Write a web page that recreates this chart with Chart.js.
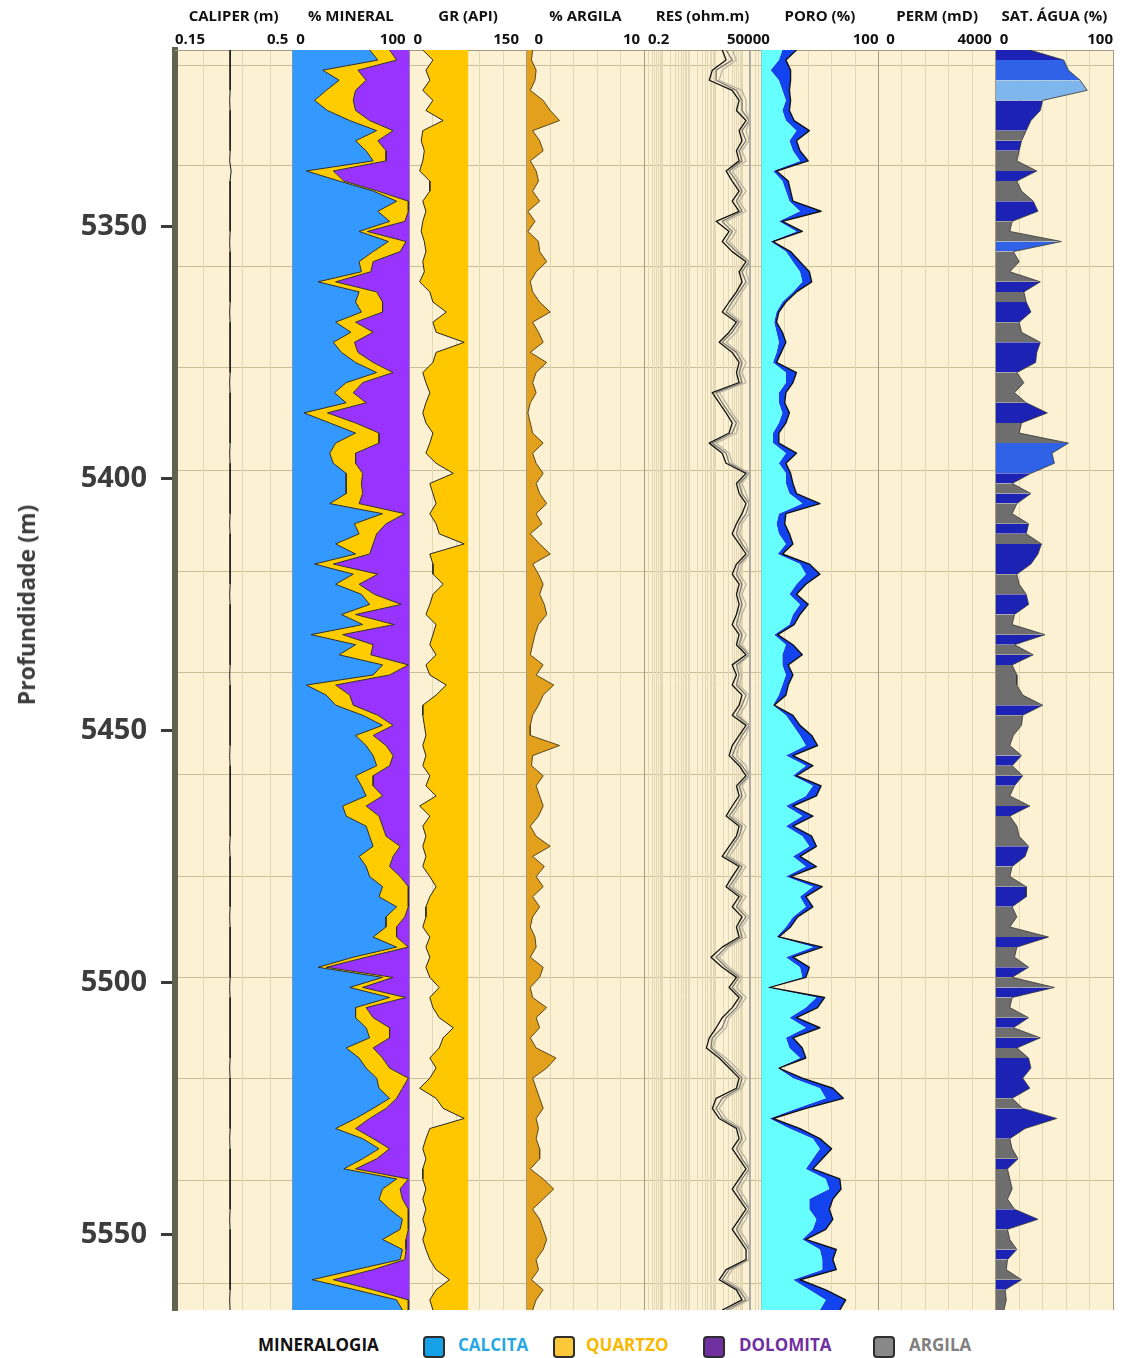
<!DOCTYPE html>
<html>
<head>
<meta charset="utf-8">
<script src="https://cdn.jsdelivr.net/npm/chart.js@4.4.1/dist/chart.umd.min.js"></script>
<style>
	body { margin: 0; background: #ffffff; font-family: "Open Sans", sans-serif; }
	#pagina { position: relative; width: 1126px; height: 1358px; }
	#perfil { position: absolute; left: 0; top: 0; }
	#titulo_y { position: absolute; left: 26px; top: 605px; transform: translate(-50%, -50%) rotate(-90deg); white-space: nowrap; font-weight: bold; font-size: 23px; color: #3c3c3c; }
	.leg { position: absolute; top: 1333px; font-weight: bold; font-size: 17px; line-height: 24px; white-space: nowrap; }
	.caixa { position: absolute; top: 1336px; width: 18px; height: 18px; border: 2px solid #2e2e2e; border-radius: 4px; }
</style>
</head>
<body>
<div id="pagina">
	<canvas id="perfil" width="1126" height="1322"></canvas>
	<div id="titulo_y">Profundidade (m)</div>
	<div class="leg" style="left:258px;color:#111">MINERALOGIA</div>
	<div class="caixa" style="left:423px;background:#17a2e8"></div>
	<div class="leg" style="left:458px;color:#27a8e2">CALCITA</div>
	<div class="caixa" style="left:553px;background:#fcc83a"></div>
	<div class="leg" style="left:586px;color:#f7b900">QUARTZO</div>
	<div class="caixa" style="left:703px;background:#7030a0"></div>
	<div class="leg" style="left:739px;color:#7030a0">DOLOMITA</div>
	<div class="caixa" style="left:873px;background:#888888"></div>
	<div class="leg" style="left:909px;color:#808080">ARGILA</div>
</div>
<script>
// profundidade (m) de cada amostra
var profundidade = [
	5315,5317,5319,5321,5323,5325,5327,5329,5331,5333,
	5335,5337,5339,5341,5343,5345,5347,5349,5351,5353,
	5355,5357,5359,5361,5363,5365,5367,5369,5371,5373,
	5375,5377,5379,5381,5383,5385,5387,5389,5391,5393,
	5395,5397,5399,5401,5403,5405,5407,5409,5411,5413,
	5415,5417,5419,5421,5423,5425,5427,5429,5431,5433,
	5435,5437,5439,5441,5443,5445,5447,5449,5451,5453,
	5455,5457,5459,5461,5463,5465,5467,5469,5471,5473,
	5475,5477,5479,5481,5483,5485,5487,5489,5491,5493,
	5495,5497,5499,5501,5503,5505,5507,5509,5511,5513,
	5515,5517,5519,5521,5523,5525,5527,5529,5531,5533,
	5535,5537,5539,5541,5543,5545,5547,5549,5551,5553,
	5555,5557,5559,5561,5563,5565
];

var caliper = [
	0.264,0.264,0.265,0.264,0.264,0.263,0.264,0.264,0.265,0.264,
	0.264,0.263,0.267,0.264,0.264,0.264,0.265,0.264,0.264,0.263,
	0.264,0.264,0.265,0.264,0.264,0.264,0.263,0.264,0.264,0.265,
	0.264,0.264,0.264,0.263,0.264,0.265,0.264,0.264,0.264,0.264,
	0.263,0.264,0.264,0.265,0.264,0.264,0.264,0.263,0.264,0.264,
	0.264,0.265,0.264,0.264,0.263,0.264,0.264,0.264,0.265,0.264,
	0.264,0.264,0.263,0.264,0.264,0.264,0.265,0.264,0.264,0.264,
	0.263,0.264,0.264,0.264,0.265,0.266,0.264,0.264,0.264,0.263,
	0.264,0.264,0.265,0.264,0.264,0.264,0.263,0.264,0.264,0.264,
	0.265,0.264,0.264,0.263,0.264,0.264,0.264,0.265,0.264,0.264,
	0.264,0.263,0.264,0.264,0.264,0.265,0.264,0.264,0.263,0.264,
	0.264,0.264,0.265,0.264,0.264,0.264,0.263,0.264,0.264,0.264,
	0.264,0.265,0.264,0.264,0.263,0.264
];

// mineralogia (%)
var calcita = [
	66,73,26,40,29,19,30,49,72,54,
	63,69,12,40,69,89,73,83,57,82,
	69,57,59,22,57,54,59,37,50,35,
	42,54,72,46,36,46,10,32,54,37,
	32,35,46,46,46,32,77,53,57,37,
	54,19,52,37,59,66,42,60,16,54,
	40,77,69,12,29,37,60,77,54,63,
	69,72,54,59,63,43,46,63,66,69,
	57,63,66,77,74,89,80,80,69,89,
	52,22,77,49,83,54,54,63,66,46,
	57,63,72,74,83,69,54,37,60,74,
	60,44,89,77,74,83,94,92,77,94,
	92,54,17,54,89,94
];
var quartzo = [
	17,16,30,23,25,33,24,17,14,19,
	17,11,23,4,4,10,26,13,7,15,
	23,12,8,15,15,23,18,17,19,18,
	14,15,14,14,16,17,20,22,20,37,
	22,19,14,13,14,25,19,27,15,32,
	12,16,21,20,11,27,12,27,27,15,
	27,22,14,25,20,15,13,9,15,17,
	17,11,15,10,14,20,28,14,14,23,
	29,20,26,22,25,10,16,9,20,10,
	11,7,9,11,14,9,15,20,17,23,
	20,20,27,20,6,11,12,17,9,9,
	12,10,10,15,20,16,5,7,20,3,
	4,15,18,15,10,5
];
var dolomita = [
	17,11,44,37,46,48,46,34,14,27,
	20,20,65,56,27,1,1,4,36,3,
	8,31,33,63,28,23,23,46,31,47,
	44,31,14,40,48,37,70,46,26,26,
	46,46,40,41,40,43,4,20,28,31,
	34,65,27,43,30,7,46,13,57,31,
	33,1,17,63,51,48,27,14,31,20,
	14,17,31,31,23,37,26,23,20,8,
	14,17,8,1,1,1,4,11,11,1,
	37,71,14,40,3,37,31,17,17,31,
	23,17,1,6,11,20,34,46,31,17,
	28,46,1,8,6,1,1,1,3,3,
	4,31,65,31,1,1
];

// raios gama (API)
var raioGama = [
	17,30,21,26,17,30,21,43,17,15,
	19,17,13,26,26,17,21,17,15,19,
	21,17,19,13,26,30,47,30,34,70,
	34,30,17,21,26,21,17,21,30,26,
	21,34,56,26,30,34,26,34,38,70,
	26,30,30,43,30,26,21,34,30,26,
	34,21,26,47,34,17,17,19,21,17,
	21,17,26,21,34,13,26,17,21,17,
	21,17,26,34,26,21,21,17,26,21,
	26,21,26,38,26,30,38,56,43,38,
	26,34,26,13,34,43,70,26,21,17,
	21,17,17,21,17,21,17,21,17,21,
	26,34,51,34,26,30
];
var corteGR = 75;

// argila (%)
var argila = [
	0.5,0.4,0.8,0.7,0.3,1.4,2.0,2.8,0.5,1.1,
	1.4,0.3,0.8,1.0,0.5,1.1,0.1,0.7,0.1,1.0,
	1.1,1.7,0.8,0.3,0.5,1.1,2.0,0.5,1.0,1.4,
	0.3,1.7,0.8,0.5,0.8,0.3,0.1,0.3,0.5,1.4,
	0.5,0.8,1.4,0.8,1.1,1.7,0.8,1.3,0.3,1.1,
	2.0,0.5,1.0,1.4,1.1,1.5,1.7,1.0,0.7,0.5,
	0.3,1.4,0.8,2.3,1.4,1.0,0.5,0.3,0.3,2.8,
	0.5,0.4,1.4,0.8,1.1,1.4,1.0,0.3,0.8,2.0,
	0.5,1.5,0.8,1.4,0.5,1.1,0.5,0.3,0.7,0.8,
	0.3,1.4,1.1,0.3,0.5,1.7,0.8,1.1,0.3,0.8,
	2.5,1.7,0.5,0.8,1.1,1.4,0.8,1.0,0.8,1.1,
	1.1,0.3,1.4,2.3,1.4,0.5,1.1,1.4,1.7,1.4,
	0.8,1.0,0.4,1.4,0.8,0.5
];

// resistividade (ohm.m)
var resProfunda = [
	172,240,73,56,407,741,587,1346,741,949,
	587,741,240,407,741,407,741,102,312,172,
	407,1346,741,949,587,312,172,587,312,132,
	407,741,587,741,73,132,240,407,312,56,
	172,240,1346,587,741,1346,949,587,407,741,
	1346,587,407,741,587,741,587,407,741,587,
	1346,407,587,407,949,741,407,1346,741,407,
	312,741,1346,587,741,407,240,741,587,312,
	172,741,407,240,741,407,949,587,741,172,
	65,172,587,312,741,407,172,102,56,44,
	132,312,741,587,102,73,132,587,741,407,
	741,1346,741,407,741,1346,741,407,741,1346,
	1346,240,132,587,949,172
];
var resMedia = [
	240,407,102,102,587,949,949,1753,949,1346,
	741,949,312,587,949,587,949,172,407,240,
	587,1753,949,1346,741,407,240,741,407,172,
	587,949,741,949,102,172,312,587,407,73,
	240,312,1753,741,949,1753,1346,741,587,949,
	1753,741,587,949,741,949,741,587,949,741,
	1753,587,741,587,1346,949,587,1753,949,587,
	407,949,1753,741,949,587,312,949,741,407,
	240,949,587,312,949,587,1346,741,949,240,
	102,240,741,407,949,587,240,172,73,65,
	172,407,949,741,172,102,172,741,949,587,
	949,1753,949,587,949,1753,949,587,949,1753,
	1753,312,172,741,1346,240
];
var resRasa = [
	407,587,172,132,949,1346,1346,1825,1346,1753,
	949,1346,407,741,1346,741,1346,240,587,312,
	741,1825,1346,1753,949,587,312,949,587,240,
	741,1346,949,1346,132,240,407,741,587,102,
	312,407,1825,949,1346,1825,1753,949,741,1346,
	1825,949,741,1346,949,1346,949,741,1346,949,
	1825,741,949,741,1753,1346,741,1825,1346,741,
	587,1346,1825,949,1346,741,407,1346,949,587,
	312,1346,741,407,1346,741,1753,949,1346,312,
	132,312,949,587,1346,741,312,240,102,73,
	240,587,1346,949,240,132,240,949,1346,741,
	1346,1825,1346,741,1346,1825,1346,741,1346,1825,
	1825,407,240,949,1753,312
];
var limiteRes = 1875;

// porosidade (%)
var poroEfetiva = [
	18,15,8,15,18,21,18,21,30,24,
	27,33,10,18,21,24,33,15,30,8,
	21,27,33,35,27,18,13,11,13,15,
	13,10,21,21,15,15,18,15,10,10,
	21,15,21,21,24,35,15,13,15,21,
	14,33,38,30,24,33,27,24,11,21,
	18,18,21,18,15,10,21,27,33,38,
	21,38,27,44,38,21,35,21,35,41,
	27,38,21,44,33,38,27,21,13,44,
	21,33,35,5,47,38,24,38,21,24,
	33,14,27,50,55,30,7,24,44,50,
	44,38,55,58,41,41,47,44,35,50,
	52,52,27,41,55,50
];
var poroTotal = [
	30,21,25,25,24,25,24,28,41,30,
	33,40,13,23,25,27,51,18,35,10,
	25,33,41,43,30,21,15,13,18,21,
	17,13,30,27,21,20,24,21,15,15,
	30,21,25,27,30,50,21,20,24,27,
	18,41,50,38,30,40,33,28,14,27,
	35,23,27,23,21,11,27,33,43,48,
	27,44,30,51,47,27,44,27,43,47,
	33,47,25,52,38,44,31,25,15,52,
	27,41,38,7,54,48,30,50,27,35,
	38,15,35,61,70,38,10,33,50,60,
	52,44,67,68,61,58,61,55,38,64,
	61,64,33,55,72,67
];

// saturação de água (%) e classe de cor de cada intervalo
var satAgua = [
	29,58,62,72,78,40,38,30,26,22,
	20,18,35,18,22,32,36,14,12,56,
	15,20,12,38,24,26,30,20,22,38,
	35,34,18,24,16,26,44,22,20,62,
	48,50,30,14,30,18,14,28,26,39,
	36,30,18,20,26,28,16,14,42,16,
	32,14,18,18,23,40,23,22,15,12,
	22,14,23,16,12,29,12,18,20,28,
	25,14,12,26,26,14,18,12,45,18,
	16,28,14,50,14,12,28,15,38,18,
	28,30,23,29,14,23,52,25,12,14,
	19,10,12,14,10,16,36,10,12,18,
	10,9,22,8,9,7
];
var satClasse = [
	"n","b","b","l","l","n","n","n","g","n",
	"g","g","n","g","g","n","n","g","g","b",
	"g","g","g","n","g","n","n","g","g","n",
	"n","n","g","g","g","n","n","g","g","b",
	"b","b","n","g","n","g","g","n","g","n",
	"n","n","g","g","n","n","g","g","n","g",
	"n","g","g","g","g","n","g","g","g","g",
	"n","g","n","g","g","n","g","g","g","n",
	"n","g","g","n","n","g","g","g","n","g",
	"g","n","g","n","g","g","n","g","n","g",
	"n","n","n","n","g","n","n","n","g","g",
	"n","g","g","g","g","n","n","g","g","n",
	"g","g","n","g","g","g"
];
var coresSat = { g: "#6e6e6e", n: "#1b22b4", b: "#2f62e6", l: "#80b6ee" };

var rotulosProfundidade = [5350, 5400, 5450, 5500, 5550];
var linhasProfundidade = [5318, 5338, 5358, 5378, 5398.5, 5418.5, 5438.6, 5458.8, 5479, 5499, 5519, 5539.4, 5559.7];

function pontos(valores)
{
	return valores.map(function (v, i) { return { x: v, y: profundidade[i] }; });
}

function gradeLog(min, max)
{
	var ticks = [];
	for (var dec = 0.1; dec <= max; dec *= 10) {
		for (var m = 1; m < 10; m++) {
			var v = Math.round(m * dec * 1000) / 1000;
			if (v >= min && v <= max) ticks.push(v);
		}
	}
	return ticks;
}

function criaPista(titulo, tipo, min, max, grade, rotuloMin, rotuloMax, empilhado)
{
	return {
		axis: 'x',
		type: tipo,
		position: 'top',
		stack: 'pistas',
		stackWeight: 1,
		stacked: !!empilhado,
		min: min,
		max: max,
		afterFit: function (s) { s.height = 50; s.paddingLeft = 0; s.paddingRight = 0; },
		afterBuildTicks: function (s) { s.ticks = grade.map(function (v) { return { value: v }; }); },
		title: {
			display: true,
			text: titulo,
			color: '#111',
			font: { family: 'Open Sans', size: 15, weight: 'bold' },
			padding: { top: 8, bottom: 0 }
		},
		ticks: {
			autoSkip: false,
			maxRotation: 0,
			align: 'inner',
			padding: 1,
			color: '#111',
			font: { family: 'Open Sans', size: 15, weight: 'bold' },
			callback: function (v, i, t) {
				if (i === 0) return rotuloMin;
				if (i === t.length - 1) return rotuloMax;
				return '';
			}
		},
		grid: {
			drawTicks: false,
			lineWidth: 1,
			color: function (ctx) {
				return (ctx.index === 0 || ctx.index === grade.length - 1) ? '#a39b82' : '#e2d8b6';
			}
		},
		border: { display: true, color: '#a39b82', width: 1 }
	};
}

var fundoPistas = {
	id: 'fundoPistas',
	beforeDraw: function (chart) {
		var a = chart.chartArea;
		var ctx = chart.ctx;
		ctx.save();
		ctx.fillStyle = '#fcf2d3';
		ctx.fillRect(a.left, a.top, a.right - a.left, a.bottom - a.top);
		ctx.restore();
	}
};

var linha = { pointRadius: 0, tension: 0, borderJoinStyle: 'round' };

new Chart(document.getElementById('perfil'), {
	type: 'line',
	plugins: [fundoPistas],
	data: {
		datasets: [
			Object.assign({ label: 'Caliper', data: pontos(caliper), xAxisID: 'cal', borderColor: '#1a1a1a', borderWidth: 1, fill: false }, linha),
			Object.assign({ label: 'Calcita', data: pontos(calcita), xAxisID: 'min', borderColor: '#2e2e2e', borderWidth: 1, backgroundColor: '#3399ff', fill: 'origin' }, linha),
			Object.assign({ label: 'Quartzo', data: pontos(quartzo), xAxisID: 'min', borderColor: '#2e2e2e', borderWidth: 1, backgroundColor: '#ffcc00', fill: '-1' }, linha),
			Object.assign({ label: 'Dolomita', data: pontos(dolomita), xAxisID: 'min', borderColor: 'rgba(0,0,0,0)', borderWidth: 0, backgroundColor: '#9933ff', fill: '-1' }, linha),
			Object.assign({ label: 'GR', data: pontos(raioGama), xAxisID: 'gr', borderColor: '#262626', borderWidth: 1, backgroundColor: '#ffc700', fill: { value: corteGR } }, linha),
			Object.assign({ label: 'Argila', data: pontos(argila), xAxisID: 'arg', borderColor: '#5a4719', borderWidth: 1, backgroundColor: '#e2a01d', fill: 'origin' }, linha),
			Object.assign({ label: 'RES rasa', data: pontos(resRasa), xAxisID: 'res', borderColor: '#bcb5a3', borderWidth: 1.3, fill: false }, linha),
			Object.assign({ label: 'RES media', data: pontos(resMedia), xAxisID: 'res', borderColor: '#7d7a72', borderWidth: 1.3, fill: false }, linha),
			Object.assign({ label: 'RES profunda', data: pontos(resProfunda), xAxisID: 'res', borderColor: '#111', borderWidth: 1.3, fill: false }, linha),
			Object.assign({ label: 'Limite RES', data: [{ x: limiteRes, y: profundidade[0] }, { x: limiteRes, y: profundidade[profundidade.length - 1] }], xAxisID: 'res', borderColor: '#a3a3a3', borderWidth: 1, fill: false }, linha),
			Object.assign({ label: 'Poro efetiva', data: pontos(poroEfetiva), xAxisID: 'por', borderColor: 'rgba(0,0,0,0)', borderWidth: 0, backgroundColor: '#66ffff', fill: 'origin' }, linha),
			Object.assign({ label: 'Poro total', data: pontos(poroTotal), xAxisID: 'por', borderColor: '#111', borderWidth: 1.4, backgroundColor: '#1243ee', fill: '-1' }, linha),
			Object.assign({
				label: 'Sat agua', data: pontos(satAgua), xAxisID: 'sat', borderColor: '#333', borderWidth: 0.8, backgroundColor: '#6e6e6e', fill: 'origin',
				segment: { backgroundColor: function (ctx) { return coresSat[satClasse[ctx.p0DataIndex]]; } }
			}, linha)
		]
	},
	options: {
		responsive: false,
		animation: false,
		devicePixelRatio: 1,
		indexAxis: 'y',
		layout: { padding: { left: 0, right: 13, top: 0, bottom: 12 } },
		plugins: { legend: { display: false }, tooltip: { enabled: false } },
		scales: {
			y: {
				axis: 'y',
				type: 'linear',
				position: 'left',
				reverse: true,
				min: 5315,
				max: 5565,
				afterFit: function (s) { s.width = 175; s.paddingTop = 0; s.paddingBottom = 0; },
				afterBuildTicks: function (s) { s.ticks = rotulosProfundidade.map(function (v) { return { value: v }; }); },
				ticks: {
					color: '#3c3c3c', padding: 14, font: { family: 'Open Sans', size: 29, weight: 'bold' },
					callback: function (v) { return String(v); }
				},
				grid: { drawOnChartArea: false, drawTicks: true, tickLength: 14, tickWidth: 3, tickColor: '#3a3a3a' },
				border: { display: true, color: '#626250', width: 6 }
			},
			yg: {
				axis: 'y',
				type: 'linear',
				position: 'right',
				reverse: true,
				min: 5315,
				max: 5565,
				afterFit: function (s) { s.width = 0; s.paddingTop = 0; s.paddingBottom = 0; },
				afterBuildTicks: function (s) { s.ticks = linhasProfundidade.map(function (v) { return { value: v }; }); },
				ticks: { display: false },
				grid: { drawTicks: false, color: '#c9bd98', lineWidth: 1 },
				border: { display: false }
			},
			// as pistas são empilhadas da direita para a esquerda
			sat: criaPista('SAT. ÁGUA (%)', 'linear', 0, 100, [0, 20, 40, 60, 80, 100], ' 0', '100'),
			perm: criaPista('PERM (mD)', 'linear', 0, 4000, [0, 800, 1600, 2400, 3200, 4000], '  0', '4000 '),
			por: criaPista('PORO (%)', 'linear', 0, 100, [0, 20, 40, 60, 80, 100], '0', '100'),
			res: criaPista('RES (ohm.m)', 'logarithmic', 0.2, 5000, gradeLog(0.2, 5000), ' 0.2', '5000'),
			arg: criaPista('% ARGILA', 'linear', 0, 10, [0, 2, 4, 6, 8, 10], '  0', '10 '),
			gr: criaPista('GR (API)', 'linear', 0, 150, [0, 30, 60, 90, 120, 150], ' 0', '150  '),
			min: criaPista('% MINERAL', 'linear', 0, 100, [0, 20, 40, 60, 80, 100], ' 0', '100 ', true),
			cal: criaPista('CALIPER (m)', 'logarithmic', 0.15, 0.5, [0.15, 0.2, 0.3, 0.4, 0.5], '0.15', '0.5 ')
		}
	}
});
</script>
</body>
</html>
